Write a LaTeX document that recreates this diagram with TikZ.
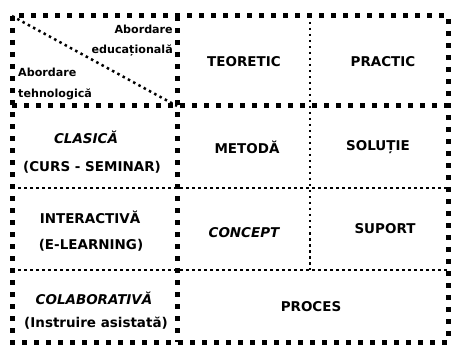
\documentclass[tikz,border=0pt]{standalone}
\usepackage{fontspec}
\setmainfont{DejaVu Sans}
\usetikzlibrary{positioning}
\tikzset{
  thickdots/.style={line width=0.15cm, dash pattern=on 0.15cm off 0.21cm},
  thindots/.style={line width=0.075cm, dash pattern=on 0.075cm off 0.105cm},
  cell/.style={font=\fontsize{11.5}{14}\selectfont\bfseries, inner sep=0pt},
  slanted/.style={cell, font=\fontsize{11.5}{14}\selectfont\bfseries\itshape},
  corner/.style={font=\fontsize{9.5}{12}\selectfont\bfseries, inner sep=0pt},
}
\begin{document}
\begin{tikzpicture}[x=0.03cm,y=-0.03cm]
  \useasboundingbox (0,0) rectangle (456,346);
  % grid
  \draw[thindots] (12,16) -- (177,106);
  \draw[thindots] (310,16) -- (310,270);
  \draw[thindots] (12,188) -- (448,188);
  \draw[thindots] (12,270) -- (448,270);
  \draw[thickdots] (12,106) -- (448,106);
  \draw[thickdots] (177,16) -- (177,342);
  \draw[thickdots] (12,16) rectangle (448,342);

  % header
  \node[corner, anchor=east] (edu1) at (173,29) {Abordare};
  \node[corner, anchor=east] (edu2) at (173,50) {educațională};
  \node[corner, anchor=west] (teh1) at (18,72) {Abordare};
  \node[corner, anchor=west] (teh2) at (18,94) {tehnologică};
  \node[cell] (teoretic) at (244,62) {TEORETIC};
  \node[cell] (practic) at (383,62) {PRACTIC};

  % rows
  \node[slanted] (clasica) at (86,137) {CLASICĂ};
  \node[cell] (curs) at (92,167) {(CURS - SEMINAR)};
  \node[cell] (metoda) at (247,147) {METODĂ};
  \node[cell] (solutie) at (378,147) {SOLUȚIE};

  \node[cell] (interactiva) at (90,217) {INTERACTIVĂ};
  \node[cell] (elearning) at (91,245) {(E-LEARNING)};
  \node[slanted] (concept) at (244,233) {CONCEPT};
  \node[cell] (suport) at (385,229) {SUPORT};

  \node[slanted] (colab) at (94,298) {COLABORATIVĂ};
  \node[cell] (instruire) at (96,323) {(Instruire asistată)};
  \node[cell] (proces) at (311,307) {PROCES};
\end{tikzpicture}
\end{document}
